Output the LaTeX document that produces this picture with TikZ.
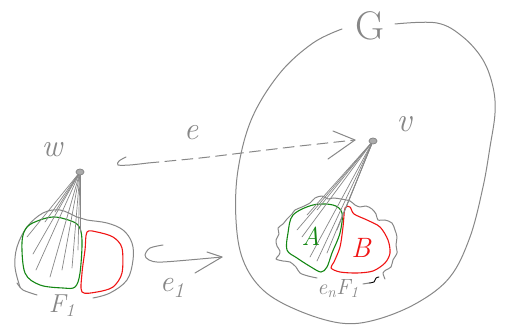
\documentclass[tikz,border=0pt]{standalone}
\usepackage{fontspec}
\usetikzlibrary{shapes.geometric}
\definecolor{pen}{RGB}{135,135,135}
\definecolor{gpen}{RGB}{20,135,20}
\definecolor{rpen}{RGB}{240,20,20}
\newcommand{\fs}[1]{\fontsize{#1}{#1}\selectfont}
\begin{document}
\begin{tikzpicture}[x=1pt,y=-1pt,line cap=round,line join=round,
  penline/.style={draw=pen,line width=1pt},
  fanline/.style={draw=pen,line width=0.7pt},
  greenline/.style={draw=gpen,line width=1.1pt},
  redline/.style={draw=rpen,line width=1.1pt},
  vertex/.style={ellipse,draw=pen,fill=pen!70,line width=0.8pt,minimum width=8pt,minimum height=6pt,inner sep=0pt},
  lbl/.style={text=pen,inner sep=0pt,font=\itshape}]
\useasboundingbox (0,0) rectangle (507,331);
% big region G
\draw[penline] plot[smooth,tension=0.6] coordinates {(342,29) (313,43) (280,73) (252,118) (238,170) (236,220) (243,260) (263,290) (297,310) (340,323) (375,320) (417,303) (450,277) (470,237) (483,187) (490,147) (495,113) (493,87) (483,60) (463,37) (437,23) (395,24)};
\node[lbl,font=\fs{40}] (G) at (370,26) {G};
% vertices
\node[vertex] (w) at (80,172) {};
\node[vertex] (v) at (373,141) {};
\node[lbl,font=\itshape\fs{32}] (wl) at (52,150) {w};
\node[lbl,font=\itshape\fs{34}] (vl) at (404,124) {v};
% left blob F1
\draw[penline] plot[smooth,tension=0.6] coordinates {(20,287) (15,267) (17,247) (27,227) (43,213) (60,210) (77,217) (87,220) (107,223) (123,230) (132,243) (133,260) (127,280) (110,293) (93,298)};
\draw[penline] plot[smooth] coordinates {(17,283) (23,290) (37,295)};
\draw[greenline] plot[smooth cycle,tension=0.55] coordinates {(22,242) (27,227) (40,220) (53,217) (65,219) (78,225) (82,240) (80,273) (75,287) (63,288) (40,285) (25,273)};
\draw[redline] plot[smooth cycle,tension=0.5] coordinates {(87,232) (97,232) (113,237) (122,248) (122,273) (113,287) (97,292) (82,292) (82,273) (85,250)};
\foreach \t in {(27,237),(33,254),(36,270),(50,277),(62,270),(72,268),(78,250),(80,232),(55,212),(45,222)}
  \draw[fanline] (w) -- \t;
\node[lbl,font=\itshape\fs{26}] (F1) at (62,306) {F\textsubscript{1}};
% right blob e_n F_1
\draw[penline] plot[smooth,tension=0.5] coordinates {(317,278) (308,276) (300,273) (296,267) (290,262) (283,261) (276,259) (279,255) (280,251) (277,246) (276,240) (279,234) (278,228) (283,224) (287,219) (292,214) (295,210) (302,207) (310,203) (315,198) (322,196) (328,199) (333,198) (341,199) (350,201) (355,205) (360,207) (366,206) (372,209) (376,214) (378,220) (385,220) (392,223) (395,230) (397,237) (396,245) (397,253) (393,260) (391,267) (386,270) (383,273) (385,279)};
\draw[penline] (363,284) -- (369,283);
\draw[draw=black,line width=0.9pt] plot[smooth] coordinates {(369,283) (374,282) (376,278) (379,277)};
\draw[greenline] plot[smooth cycle,tension=0.55] coordinates {(293,215) (313,205) (333,205) (342,213) (340,233) (332,253) (327,267) (321,272) (311,267) (297,258) (287,250) (288,233)};
\draw[redline] plot[smooth cycle,tension=0.5] coordinates {(345,208) (350,207) (354,214) (367,220) (380,227) (388,240) (390,253) (385,263) (373,271) (357,273) (340,272) (331,268) (334,262) (340,247) (343,227)};
\foreach \t in {(297,230),(302,237),(310,257),(317,261),(327,253),(337,230),(347,205),(317,210),(307,215)}
  \draw[fanline] (v) -- \t;
\node[text=gpen,inner sep=0pt,font=\itshape\fs{26}] (A) at (311,236) {A};
\node[text=rpen,inner sep=0pt,font=\itshape\fs{28}] (B) at (361,248) {B};
\node[lbl,font=\itshape\fs{22}] (enF1) at (338,289) {e\textsubscript{n}F\textsubscript{1}};
% dashed arrow e
\coordinate (e0) at (126,157);
\coordinate (e1) at (148,163);
\coordinate (etip) at (355,140);
\draw[penline] plot[smooth] coordinates {(e0) (119,161) (118,165) (130,165) (e1)};
\draw[penline,dash pattern=on 11pt off 6pt] plot[smooth] coordinates {(e1) (200,158) (250,152) (300,146) (etip)};
\draw[penline] (333,131) -- (etip) -- (328,159);
\node[lbl,font=\itshape\fs{32}] (el) at (191,133) {e};
% hook arrow e_1
\coordinate (h0) at (163,245);
\coordinate (htip) at (222,257);
\draw[penline] plot[smooth] coordinates {(h0) (150,248) (145,255) (149,260) (163,262) (htip)};
\draw[penline] (207,252) -- (htip) -- (195,273);
\node[lbl,font=\itshape\fs{30}] (e1l) at (172,288) {e\textsubscript{1}};
\end{tikzpicture}
\end{document}
